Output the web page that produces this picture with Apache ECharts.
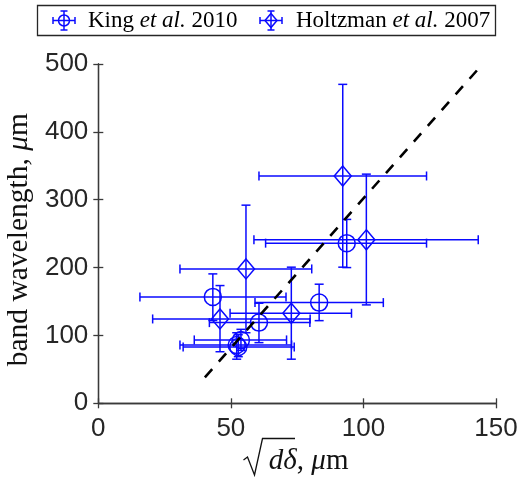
<!DOCTYPE html>
<html><head><meta charset="utf-8">
<script src="https://cdn.jsdelivr.net/npm/echarts@6/dist/echarts.min.js"></script>
<style>html,body{margin:0;padding:0;background:#fff}#c{width:520px;height:477px}</style>
</head><body><div id="c"></div>
<script>
// King et al. 2010 (circles)
const kingX   = [43.2, 60.6, 83.3, 93.7, 53.8, 52.2, 52.8];
const kingY   = [156.8, 118.9, 148.4, 236.0, 93.4, 86.0, 83.0];
const kingXLo = [15.7, 41.9, 59.1, 63.1, 36.2, 30.8, 32.0];
const kingXHi = [70.8, 79.8, 107.5, 123.8, 71.0, 72.9, 73.9];
const kingYLo = [122.0, 89.4, 121.8, 200.0, 78.0, 65.0, 68.7];
const kingYHi = [190.7, 147.5, 175.5, 271.0, 109.0, 104.0, 101.0];
// Holtzman et al. 2007 (diamonds)
const holX   = [92.2, 101.1, 55.7, 45.9, 72.8];
const holY   = [335.0, 240.9, 198.0, 124.3, 132.7];
const holXLo = [60.6, 58.7, 30.8, 20.5, 49.7];
const holXHi = [123.8, 143.3, 80.5, 79.9, 95.5];
const holYLo = [200.6, 145.0, 104.0, 76.0, 65.0];
const holYHi = [470.0, 337.7, 292.0, 173.5, 200.6];
// dashed reference line end points
const lineX = [40.2, 143.6];
const lineY = [38.3, 494.0];
// axes
const xMin = 0, xMax = 150, xStep = 50;
const yMin = 0, yMax = 500, yStep = 100;

const BLUE = '#0a0aff';
const AX = '#3a3a3a';
const SERIF = '"Liberation Serif", "DejaVu Serif", serif';
const SANS = '"Liberation Sans", Arial, sans-serif';
const LW = 1.5;

function pack(X, Y, XL, XH, YL, YH) {
  return X.map((v, i) => [v, Y[i], XL[i], XH[i], YL[i], YH[i]]);
}

function errRender(marker) {
  return function (params, api) {
    const x = api.value(0), y = api.value(1);
    const c = api.coord([x, y]);
    const pl = api.coord([api.value(2), y]), ph = api.coord([api.value(3), y]);
    const pb = api.coord([x, api.value(4)]), pt = api.coord([x, api.value(5)]);
    const cap = 4.5;
    const st = { stroke: BLUE, lineWidth: LW, fill: 'none' };
    const L = (x1, y1, x2, y2) => ({ type: 'line', shape: { x1, y1, x2, y2 }, style: st });
    const ch = [
      L(pl[0], c[1], ph[0], c[1]),
      L(pl[0], c[1] - cap, pl[0], c[1] + cap),
      L(ph[0], c[1] - cap, ph[0], c[1] + cap),
      L(c[0], pb[1], c[0], pt[1]),
      L(c[0] - cap, pb[1], c[0] + cap, pb[1]),
      L(c[0] - cap, pt[1], c[0] + cap, pt[1])
    ];
    if (marker === 'circle') {
      ch.push({ type: 'circle', shape: { cx: c[0], cy: c[1], r: 8.5 }, style: st });
    } else {
      ch.push({ type: 'polygon', shape: { points: [[c[0], c[1] - 10], [c[0] + 8.5, c[1]], [c[0], c[1] + 10], [c[0] - 8.5, c[1]]] }, style: st });
    }
    return { type: 'group', children: ch };
  };
}

function axisX(pos, labels) {
  return {
    type: 'value', min: xMin, max: xMax, interval: xStep, position: pos,
    axisLine: { show: true, lineStyle: { color: AX, width: 1.3 } },
    axisTick: { show: true, inside: true, length: 5, lineStyle: { color: AX, width: 1.3 } },
    axisLabel: { show: labels, fontFamily: SANS, fontSize: 26, color: '#262626', margin: 13 },
    splitLine: { show: false }
  };
}
function axisY(pos, labels) {
  return {
    type: 'value', min: yMin, max: yMax, interval: yStep, position: pos,
    axisLine: { show: true, lineStyle: { color: AX, width: 1.3 } },
    axisTick: { show: true, inside: true, length: 5, lineStyle: { color: AX, width: 1.3 } },
    axisLabel: { show: labels, fontFamily: SANS, fontSize: 26, color: '#262626', margin: 10 },
    splitLine: { show: false }
  };
}

const xa0 = axisX('bottom', true);
xa0.name = '{p|}{i|dδ}{n|, }{i|μ}{n|m}';
xa0.nameLocation = 'middle';
xa0.nameGap = 28;
xa0.nameTextStyle = {
  color: '#111', fontFamily: SERIF, fontSize: 29,
  rich: {
    p: { width: 23, fontSize: 29 },
    i: { fontFamily: SERIF, fontStyle: 'italic', fontSize: 29, color: '#111' },
    n: { fontFamily: SERIF, fontSize: 29, color: '#111' }
  }
};
const ya0 = axisY('left', true);
ya0.name = '{n|band wavelength, }{i|μ}{n|m}{p|}';
ya0.nameLocation = 'middle';
ya0.nameGap = 60;
ya0.nameTextStyle = {
  color: '#111', fontFamily: SERIF, fontSize: 29.5,
  rich: {
    p: { width: 12, fontSize: 29.5 },
    i: { fontFamily: SERIF, fontStyle: 'italic', fontSize: 29.5, color: '#111' },
    n: { fontFamily: SERIF, fontSize: 29.5, color: '#111' }
  }
};

const legendRich = {
  n: { fontFamily: SERIF, fontSize: 23, color: '#111' },
  i: { fontFamily: SERIF, fontSize: 23, fontStyle: 'italic', color: '#111' }
};
const lst = { stroke: BLUE, lineWidth: LW, fill: 'none' };
function legIcon(cx, cy, marker) {
  const L = (x1, y1, x2, y2) => ({ type: 'line', z: 12, shape: { x1, y1, x2, y2 }, style: lst });
  const ch = [
    L(cx - 11, cy, cx + 11, cy), L(cx - 11, cy - 3.5, cx - 11, cy + 3.5), L(cx + 11, cy - 3.5, cx + 11, cy + 3.5),
    L(cx, cy - 9.5, cx, cy + 9.5), L(cx - 3.5, cy - 9.5, cx + 3.5, cy - 9.5), L(cx - 3.5, cy + 9.5, cx + 3.5, cy + 9.5)
  ];
  if (marker === 'circle') ch.push({ type: 'circle', z: 12, shape: { cx, cy, r: 5.5 }, style: lst });
  else ch.push({ type: 'polygon', z: 12, shape: { points: [[cx, cy - 7], [cx + 6, cy], [cx, cy + 7], [cx - 6, cy]] }, style: lst });
  return ch;
}

const option = {
  animation: false,
  backgroundColor: '#fff',
  grid: { left: 98.3, right: 24, top: 64, bottom: 73.7, containLabel: false, outerBoundsMode: 'none' },
  xAxis: [xa0, axisX('top', false)],
  yAxis: [ya0, axisY('right', false)],
  graphic: [
    { type: 'rect', z: 10, shape: { x: 37.5, y: 5.5, width: 458, height: 30 }, style: { fill: '#fff', stroke: '#262626', lineWidth: 1.3 } },
    ...legIcon(64, 20.5, 'circle'),
    { type: 'text', x: 88, y: 21, z: 12, style: { text: '{n|King }{i|et al.}{n| 2010}', rich: legendRich, verticalAlign: 'middle' } },
    ...legIcon(271, 20.5, 'diamond'),
    { type: 'text', x: 296, y: 21, z: 12, style: { text: '{n|Holtzman }{i|et al.}{n| 2007}', rich: legendRich, verticalAlign: 'middle' } },
    // radical sign for the x-axis name
    { type: 'polyline', z: 12, shape: { points: [[243.5, 460], [247.5, 457], [254.5, 475], [262.5, 438.5], [295, 438.5]] }, style: { stroke: '#111', lineWidth: 1.3, fill: 'none' } }
  ],
  series: [
    {
      name: 'King et al. 2010', type: 'custom', xAxisIndex: 0, yAxisIndex: 0,
      renderItem: errRender('circle'), data: pack(kingX, kingY, kingXLo, kingXHi, kingYLo, kingYHi),
      encode: { x: [0, 2, 3], y: [1, 4, 5] }, z: 2
    },
    {
      name: 'Holtzman et al. 2007', type: 'custom', xAxisIndex: 0, yAxisIndex: 0,
      renderItem: errRender('diamond'), data: pack(holX, holY, holXLo, holXHi, holYLo, holYHi),
      encode: { x: [0, 2, 3], y: [1, 4, 5] }, z: 2
    },
    {
      type: 'line', xAxisIndex: 0, yAxisIndex: 0, symbol: 'none', z: 5,
      data: lineX.map((v, i) => [v, lineY[i]]),
      lineStyle: { color: '#000', width: 2.6, type: [11, 10] }
    }
  ]
};
const chart = echarts.init(document.getElementById('c'));
chart.setOption(option);
</script>
</body></html>
